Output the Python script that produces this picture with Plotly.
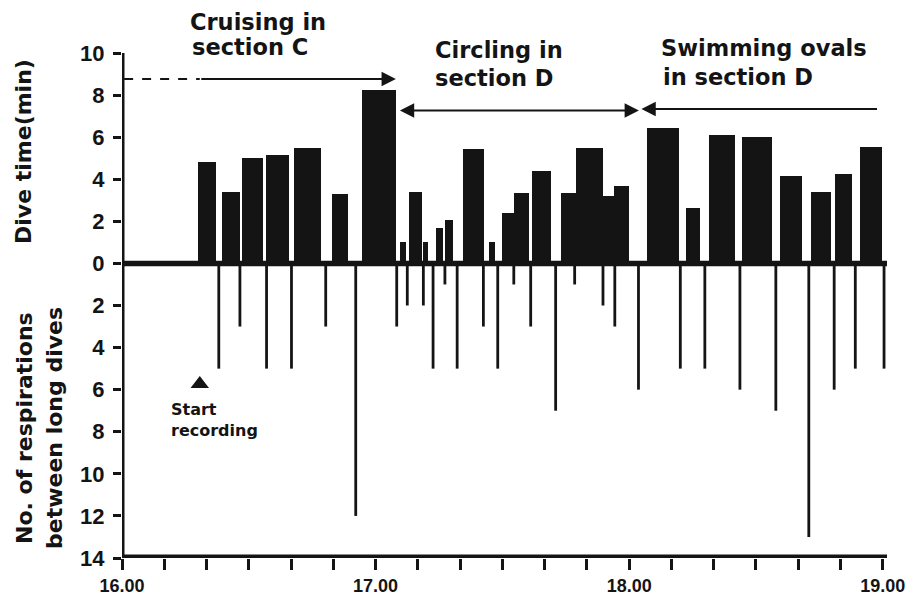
import plotly.graph_objects as go

# ---------------- data (time in minutes after 16.00) ----------------
dive_start = [17.9, 23.7, 28.5, 34.0, 40.8, 49.6, 56.8, 65.7, 67.9, 71.1,
              74.4, 76.4, 80.6, 86.8, 89.8, 92.7, 97.1, 103.8, 107.3, 113.8,
              116.4, 124.3, 133.5, 138.8, 146.6, 155.8, 163.0, 168.6, 174.6]
dive_end = [22.2, 28.0, 33.4, 39.5, 47.0, 53.5, 64.8, 67.3, 71.0, 72.4,
            76.0, 78.2, 85.6, 88.2, 92.7, 96.3, 101.5, 107.3, 113.8, 116.4,
            120.0, 131.8, 136.7, 145.0, 153.7, 161.0, 167.7, 172.7, 179.8]
dive_time = [4.8, 3.4, 5.0, 5.15, 5.5, 3.3, 8.25, 1.0, 3.4, 1.0,
             1.7, 2.05, 5.45, 1.0, 2.4, 3.35, 4.4, 3.35, 5.5, 3.2,
             3.7, 6.45, 2.65, 6.1, 6.0, 4.15, 3.4, 4.25, 5.55]

resp_time = [22.9, 27.9, 34.2, 40.1, 48.2, 55.3, 65.0, 67.5, 71.3, 73.6,
             76.4, 79.3, 85.5, 88.9, 92.7, 96.7, 102.6, 107.1, 113.8, 116.6,
             122.2, 132.1, 137.9, 146.2, 154.7, 162.5, 168.5, 173.5, 180.3]
resp_count = [5, 3, 5, 5, 3, 12, 3, 2, 2, 5,
              1, 5, 3, 5, 1, 3, 7, 1, 2, 3,
              6, 5, 5, 6, 7, 13, 6, 5, 5]

start_recording = 18.4          # minutes after 16.00
cruising_end = 64.8
circling_span = [65.4, 122.3]
ovals_span = [122.9, 179.0]

x_tick_vals = list(range(0, 181, 10))
x_tick_text = {0: "16.00", 60: "17.00", 120: "18.00", 180: "19.00"}
y_tick_vals = list(range(-14, 11, 2))
y_tick_text = [str(abs(v)) for v in y_tick_vals]

INK = "#141414"
TXT = "DejaVu Sans"
NUM = "Liberation Sans"

# pixel helpers for layout placement (layout only)
L, T, B, R = 122, 53, 41, 33
W, H = 920, 599
XMAX = 181.0
PW, PH = W - L - R, H - T - B
px_per_min = PW / XMAX
px_per_unit = PH / 24.0


def xv(px):
    return (px - L) / px_per_min


def yv(px):
    return 10 - (px - T) / px_per_unit


def xp(px):
    return (px - L) / PW


def yp(px):
    return (H - B - px) / PH


fig = go.Figure()

centers = [(s + e) / 2 for s, e in zip(dive_start, dive_end)]
widths = [e - s for s, e in zip(dive_start, dive_end)]
fig.add_trace(go.Bar(x=centers, y=dive_time, width=widths, base=0,
                     marker=dict(color=INK, line=dict(width=0)),
                     hoverinfo="skip", showlegend=False))

rx, ry = [], []
for t, n in zip(resp_time, resp_count):
    rx += [t, t, None]
    ry += [0, -n, None]
fig.add_trace(go.Scatter(x=rx, y=ry, mode="lines",
                         line=dict(color=INK, width=2.8),
                         hoverinfo="skip", showlegend=False))

fig.add_trace(go.Scatter(x=[start_recording], y=[yv(384)], mode="markers",
                         marker=dict(symbol="triangle-up", size=16, color=INK),
                         hoverinfo="skip", showlegend=False))

shapes = [
    dict(type="line", xref="x", yref="y", x0=0, x1=XMAX, y0=0, y1=0,
         line=dict(color=INK, width=5.5)),
    dict(type="line", xref="x", yref="y", x0=0, x1=XMAX, y0=-14, y1=-14,
         line=dict(color=INK, width=7)),
    dict(type="line", xref="x", yref="y", x0=0, x1=0, y0=-14.1, y1=10.25,
         line=dict(color=INK, width=5)),
    dict(type="line", xref="x", yref="y", x0=0.5, x1=start_recording,
         y0=yv(79), y1=yv(79), line=dict(color=INK, width=2.2, dash="dash")),
]

annotations = []


def arrow(x_head, x_tail, y, both=False):
    annotations.append(dict(
        x=x_head, y=y, ax=x_tail, ay=y, xref="x", yref="y", axref="x", ayref="y",
        text="", showarrow=True, arrowhead=2, arrowsize=1.3, arrowwidth=2.2,
        arrowcolor=INK, arrowside="end+start" if both else "end",
        startarrowhead=2, startarrowsize=1.3, standoff=0, startstandoff=0))


arrow(cruising_end, start_recording, yv(79))
arrow(circling_span[1], circling_span[0], yv(110.5), both=True)
annotations.append(dict(
    x=ovals_span[0], y=yv(109), ax=ovals_span[1], ay=yv(109),
    xref="x", yref="y", axref="x", ayref="y", text="", showarrow=True,
    arrowhead=2, arrowsize=1.3, arrowwidth=2.2, arrowcolor=INK, standoff=0))


def label(text, px_x, px_y, size=22.5, font=TXT, anchor="left"):
    annotations.append(dict(
        x=xp(px_x), y=yp(px_y), xref="paper", yref="paper", text=text,
        showarrow=False, xanchor=anchor, yanchor="middle",
        font=dict(family=font, size=size, color=INK, weight="bold")))


label("Cruising in", 188, 22)
label("section C", 190, 47)
label("Circling in", 433, 50)
label("section D", 433, 78)
label("Swimming ovals", 659, 48)
label("in section D", 661, 77)
label("Start", 169, 409, size=16)
label("recording", 169, 430, size=16)


def vtitle(text, px_x, px_y):
    annotations.append(dict(
        x=xp(px_x), y=yp(px_y), xref="paper", yref="paper",
        text=text, showarrow=False, textangle=-90,
        xanchor="center", yanchor="middle",
        font=dict(family=TXT, size=22, color=INK, weight="bold")))


vtitle("Dive time(min)", 24, 152)
vtitle("No. of respirations", 24, 428)
vtitle("between long dives", 54, 428)

fig.update_layout(
    width=W, height=H, autosize=False,
    margin=dict(l=L, r=R, t=T, b=B, pad=0, autoexpand=False),
    paper_bgcolor="white", plot_bgcolor="white",
    barmode="overlay", bargap=0,
    shapes=shapes, annotations=annotations,
    xaxis=dict(range=[0, XMAX], tickmode="array", tickvals=x_tick_vals,
               ticktext=[x_tick_text.get(v, "") for v in x_tick_vals],
               ticks="outside", ticklen=11, tickwidth=3, tickcolor=INK,
               showline=False, showgrid=False, zeroline=False, automargin=False,
               tickfont=dict(family=NUM, size=18, color=INK, weight="bold")),
    yaxis=dict(range=[-14, 10], tickmode="array", tickvals=y_tick_vals,
               ticktext=y_tick_text, ticks="outside", ticklen=8, tickwidth=3,
               tickcolor=INK, showline=False, showgrid=False, zeroline=False,
               automargin=False, ticklabelstandoff=4,
               tickfont=dict(family=NUM, size=22, color=INK, weight="bold")),
)

fig.write_html("out.html",
               config={"responsive": False, "displayModeBar": False},
               post_script="document.body.style.margin='0';"
                           "document.body.style.overflow='hidden';")
